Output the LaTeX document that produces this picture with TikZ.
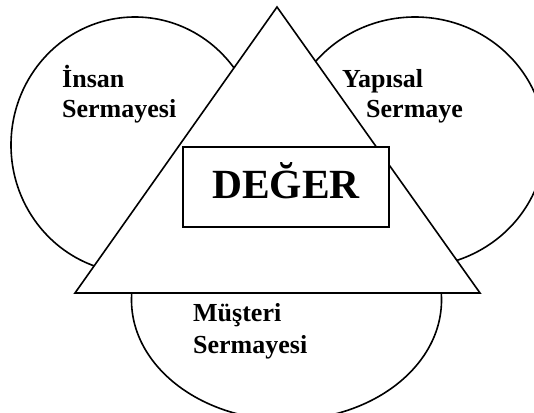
\documentclass[tikz,border=0pt]{standalone}
\usepackage{fontspec}
\setmainfont{Liberation Serif}
\begin{document}
\begin{tikzpicture}[x=1pt,y=-1pt,
  shapeline/.style={draw=black,line width=1.6pt},
  lbl/.style={anchor=base west,inner sep=0pt,font=\fontsize{26}{30}\selectfont\bfseries},
  big/.style={anchor=base,inner sep=0pt,font=\fontsize{41.5}{48}\selectfont\bfseries}]
\useasboundingbox (0,0) rectangle (534,412);
\clip (0,0) rectangle (534,412);
% capital ellipses
\draw[shapeline,fill=white] (135,145) ellipse [x radius=124pt, y radius=128pt];
\draw[shapeline,fill=white] (415,142) ellipse [x radius=130pt, y radius=125pt];
\draw[shapeline,fill=white] (286.5,300) ellipse [x radius=155pt, y radius=120pt];
% triangle
\draw[shapeline,fill=white,line join=miter] (277,7) -- (480,293) -- (75,293) -- cycle;
% value box
\node[shapeline,fill=white,rectangle,minimum width=206pt,minimum height=80pt,inner sep=0pt] (box) at (286,187) {};
\node[big] (deger) at (286,198) {DEĞER};
% labels
\node[lbl] (insan1) at (62,87) {İnsan};
\node[lbl] (insan2) at (62,117) {Sermayesi};
\node[lbl] (yap1) at (342,87) {Yapısal};
\node[lbl] (yap2) at (366,117) {Sermaye};
\node[lbl] (mus1) at (193,321) {Müşteri};
\node[lbl] (mus2) at (193,353) {Sermayesi};
\end{tikzpicture}
\end{document}
